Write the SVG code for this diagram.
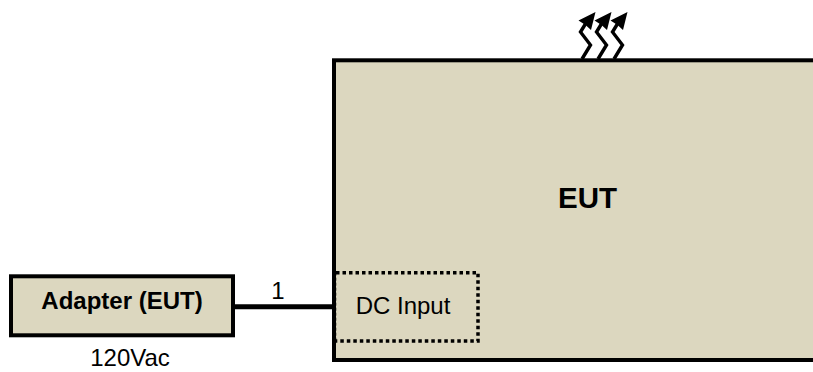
<svg xmlns="http://www.w3.org/2000/svg" width="813" height="372" viewBox="0 0 813 372">
<style>
.box{fill:#dcd7bf;stroke:#000;stroke-width:4}
.t{font-family:"Liberation Sans",Arial,sans-serif;fill:#000}
.z{fill:none;stroke:#000;stroke-width:3.400}
.h{fill:#000}
</style>
<defs>
<g id="heat"><path class="z" d="M582 59 L590.500 45 L580.500 32 L586 23"/><path class="h" d="M595.500 12 L591 30 L585.500 25 L578.500 20.500 Z"/></g>
</defs>
<g id="connectors">
<path d="M235 306.700 H333" fill="none" stroke="#000" stroke-width="5"/>
</g>
<g id="eut">
<rect class="box" x="334" y="60.300" width="490" height="299.700"/>
<text class="t" x="587.500" y="208" font-size="29.500" font-weight="bold" text-anchor="middle">EUT</text>
</g>
<g id="heat-arrows">
<use href="#heat"/><use href="#heat" x="16"/><use href="#heat" x="32"/>
</g>
<g id="dc-input">
<path d="M336 272.700 H478 V341 H336" fill="none" stroke="#000" stroke-width="3.500" stroke-dasharray="3.500 3"/>
<path d="M336.500 272.700 V341" fill="none" stroke="#000" stroke-opacity=".25" stroke-width="1" stroke-dasharray="3 2"/>
<text class="t" x="403" y="314" font-size="24" text-anchor="middle">DC Input</text>
</g>
<g id="adapter">
<rect class="box" x="11" y="276.300" width="222" height="59"/>
<text class="t" x="122" y="309" font-size="24" font-weight="bold" text-anchor="middle">Adapter (EUT)</text>
</g>
<text class="t" x="130" y="366" font-size="24" text-anchor="middle">120Vac</text>
<text class="t" x="278" y="299" font-size="24" text-anchor="middle">1</text>
</svg>
